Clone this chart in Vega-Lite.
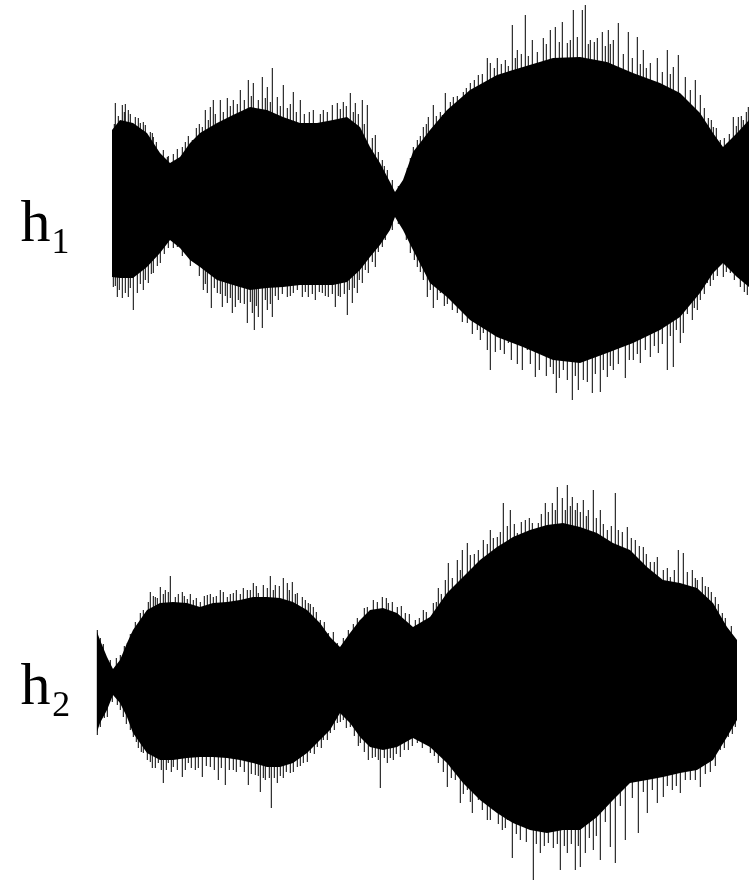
{
  "$schema": "https://vega.github.io/schema/vega-lite/v6.json",
  "background": "white",
  "padding": {"left": 20, "top": 0, "right": 0, "bottom": 0},
  "spacing": 0,
  "config": {"view": {"stroke": null}},
  "datasets": {
    "h1body": [
      {"t":16,"top":74,"bot":-73},{"t":24,"top":84,"bot":-74},{"t":37,"top":81,"bot":-74},{"t":51,"top":71,"bot":-63},{"t":64,"top":51,"bot":-49},{"t":74,"top":41,"bot":-36},{"t":84,"top":47,"bot":-44},{"t":94,"top":61,"bot":-56},{"t":104,"top":71,"bot":-63},{"t":121,"top":81,"bot":-76},{"t":137,"top":89,"bot":-81},{"t":154,"top":97,"bot":-86},{"t":171,"top":94,"bot":-84},{"t":187,"top":87,"bot":-83},{"t":204,"top":81,"bot":-81},{"t":221,"top":81,"bot":-81},{"t":237,"top":84,"bot":-81},{"t":251,"top":87,"bot":-78},{"t":264,"top":77,"bot":-66},{"t":274,"top":57,"bot":-53},{"t":284,"top":41,"bot":-41},{"t":294,"top":22,"bot":-26},{"t":299,"top":12,"bot":-13},{"t":307,"top":24,"bot":-26},{"t":317,"top":52,"bot":-46},{"t":334,"top":74,"bot":-79},{"t":351,"top":94,"bot":-93},{"t":374,"top":114,"bot":-116},{"t":401,"top":129,"bot":-133},{"t":427,"top":137,"bot":-143},{"t":457,"top":146,"bot":-156},{"t":484,"top":147,"bot":-159},{"t":511,"top":142,"bot":-149},{"t":537,"top":131,"bot":-139},{"t":564,"top":121,"bot":-126},{"t":584,"top":111,"bot":-113},{"t":604,"top":91,"bot":-89},{"t":617,"top":71,"bot":-69},{"t":627,"top":57,"bot":-59},{"t":641,"top":71,"bot":-73},{"t":653,"top":84,"bot":-83},{"t":664,"top":94,"bot":-91}
    ],
    "h1spike": [
      {"t":19,"a":101},{"t":26,"a":99},{"t":29,"a":100},{"t":32,"a":94},{"t":39,"a":87},{"t":44,"a":81},{"t":49,"a":79},{"t":56,"a":71},{"t":57,"a":67},{"t":71,"a":47},{"t":86,"a":57},{"t":96,"a":64},{"t":106,"a":77},{"t":109,"a":94},{"t":114,"a":97},{"t":117,"a":104},{"t":124,"a":104},{"t":131,"a":106},{"t":137,"a":104},{"t":144,"a":114},{"t":152,"a":124},{"t":157,"a":121},{"t":166,"a":127},{"t":171,"a":117},{"t":176,"a":136},{"t":181,"a":107},{"t":187,"a":119},{"t":197,"a":112},{"t":204,"a":104},{"t":217,"a":94},{"t":227,"a":94},{"t":236,"a":99},{"t":241,"a":101},{"t":247,"a":102},{"t":254,"a":111},{"t":259,"a":101},{"t":266,"a":104},{"t":271,"a":99},{"t":279,"a":69},{"t":286,"a":44},{"t":291,"a":34},
      {"t":317,"a":57},{"t":327,"a":77},{"t":332,"a":87},{"t":337,"a":99},{"t":346,"a":89},{"t":349,"a":111},{"t":357,"a":107},{"t":367,"a":112},{"t":374,"a":121},{"t":382,"a":129},{"t":391,"a":146},{"t":394,"a":141},{"t":401,"a":146},{"t":409,"a":144},{"t":416,"a":179},{"t":421,"a":154},{"t":429,"a":189},{"t":436,"a":164},{"t":447,"a":166},{"t":454,"a":174},{"t":459,"a":177},{"t":466,"a":182},{"t":471,"a":161},{"t":477,"a":194},{"t":481,"a":167},{"t":486,"a":194},{"t":489,"a":199},{"t":494,"a":164},{"t":501,"a":166},{"t":506,"a":172},{"t":512,"a":174},{"t":517,"a":164},{"t":522,"a":181},{"t":532,"a":172},{"t":541,"a":167},{"t":547,"a":154},{"t":554,"a":141},{"t":561,"a":146},{"t":571,"a":154},{"t":577,"a":137},{"t":582,"a":149},{"t":589,"a":127},{"t":599,"a":124},{"t":604,"a":109},{"t":612,"a":86},{"t":617,"a":77},{"t":624,"a":64},{"t":631,"a":61},{"t":637,"a":87},{"t":642,"a":87},{"t":647,"a":84},{"t":652,"a":97},
      {"t":18,"a":80},{"t":22,"a":88},{"t":28,"a":92},{"t":34,"a":90},{"t":42,"a":86},{"t":47,"a":82},{"t":54,"a":72},{"t":60,"a":62},{"t":67,"a":54},{"t":72,"a":48},{"t":77,"a":50},{"t":81,"a":55},{"t":89,"a":62},{"t":92,"a":68},{"t":100,"a":76},{"t":103,"a":80},{"t":112,"a":84},{"t":119,"a":90},{"t":127,"a":92},{"t":134,"a":98},{"t":141,"a":100},{"t":148,"a":104},{"t":155,"a":108},{"t":162,"a":104},{"t":169,"a":106},{"t":174,"a":102},{"t":184,"a":98},{"t":191,"a":96},{"t":194,"a":100},{"t":200,"a":92},{"t":208,"a":90},{"t":213,"a":92},{"t":224,"a":90},{"t":231,"a":92},{"t":244,"a":95},{"t":250,"a":98},{"t":257,"a":92},{"t":262,"a":90},{"t":268,"a":80},{"t":276,"a":66},{"t":282,"a":52},{"t":288,"a":38},{"t":296,"a":24},{"t":302,"a":18},{"t":311,"a":36},{"t":314,"a":46},{"t":321,"a":64},{"t":324,"a":68},{"t":330,"a":80},{"t":340,"a":88},{"t":344,"a":92},{"t":354,"a":102},{"t":361,"a":108},{"t":364,"a":104},{"t":370,"a":116},{"t":378,"a":124},{"t":386,"a":130},{"t":398,"a":136},{"t":405,"a":140},{"t":412,"a":138},{"t":419,"a":146},{"t":425,"a":150},{"t":432,"a":148},{"t":441,"a":152},{"t":450,"a":160},{"t":463,"a":162},{"t":474,"a":164},{"t":492,"a":160},{"t":498,"a":162},{"t":509,"a":158},{"t":514,"a":160},{"t":527,"a":150},{"t":536,"a":146},{"t":544,"a":140},{"t":550,"a":136},{"t":566,"a":132},{"t":574,"a":130},{"t":594,"a":114},{"t":608,"a":96},{"t":615,"a":84},{"t":620,"a":76},{"t":628,"a":66},{"t":633,"a":70},{"t":640,"a":78},{"t":645,"a":88},{"t":650,"a":92},
      {"t":17,"a":-83},{"t":21,"a":-93},{"t":26,"a":-94},{"t":29,"a":-89},{"t":32,"a":-93},{"t":37,"a":-106},{"t":41,"a":-89},{"t":47,"a":-86},{"t":52,"a":-79},{"t":57,"a":-69},{"t":64,"a":-59},{"t":81,"a":-43},{"t":91,"a":-49},{"t":99,"a":-59},{"t":107,"a":-86},{"t":111,"a":-89},{"t":115,"a":-104},{"t":121,"a":-89},{"t":126,"a":-103},{"t":131,"a":-99},{"t":136,"a":-109},{"t":139,"a":-103},{"t":144,"a":-99},{"t":151,"a":-119},{"t":156,"a":-109},{"t":158,"a":-126},{"t":162,"a":-113},{"t":166,"a":-124},{"t":171,"a":-106},{"t":176,"a":-113},{"t":182,"a":-96},{"t":191,"a":-93},{"t":197,"a":-89},{"t":206,"a":-93},{"t":212,"a":-93},{"t":219,"a":-96},{"t":226,"a":-89},{"t":232,"a":-93},{"t":239,"a":-103},{"t":244,"a":-93},{"t":251,"a":-111},{"t":256,"a":-99},{"t":261,"a":-89},{"t":266,"a":-79},{"t":272,"a":-69},{"t":279,"a":-63},{"t":286,"a":-43},{"t":291,"a":-29},
      {"t":314,"a":-49},{"t":321,"a":-63},{"t":327,"a":-76},{"t":331,"a":-93},{"t":337,"a":-104},{"t":344,"a":-89},{"t":351,"a":-100},{"t":361,"a":-109},{"t":371,"a":-119},{"t":381,"a":-126},{"t":387,"a":-129},{"t":394,"a":-166},{"t":404,"a":-146},{"t":412,"a":-139},{"t":426,"a":-166},{"t":431,"a":-146},{"t":439,"a":-173},{"t":447,"a":-149},{"t":454,"a":-163},{"t":460,"a":-189},{"t":467,"a":-166},{"t":476,"a":-196},{"t":482,"a":-186},{"t":487,"a":-176},{"t":496,"a":-189},{"t":504,"a":-188},{"t":511,"a":-173},{"t":517,"a":-166},{"t":529,"a":-174},{"t":537,"a":-156},{"t":544,"a":-159},{"t":554,"a":-153},{"t":562,"a":-149},{"t":571,"a":-166},{"t":577,"a":-163},{"t":584,"a":-139},{"t":587,"a":-129},{"t":596,"a":-116},{"t":601,"a":-106},{"t":604,"a":-96},{"t":611,"a":-79},{"t":617,"a":-76},{"t":627,"a":-73},{"t":634,"a":-69},{"t":644,"a":-83},{"t":651,"a":-91},
      {"t":19,"a":-82},{"t":23,"a":-86},{"t":34,"a":-84},{"t":44,"a":-80},{"t":49,"a":-76},{"t":55,"a":-70},{"t":61,"a":-62},{"t":68,"a":-50},{"t":72,"a":-44},{"t":77,"a":-44},{"t":86,"a":-52},{"t":94,"a":-62},{"t":103,"a":-72},{"t":109,"a":-80},{"t":118,"a":-84},{"t":124,"a":-90},{"t":129,"a":-92},{"t":134,"a":-94},{"t":142,"a":-96},{"t":148,"a":-100},{"t":154,"a":-98},{"t":160,"a":-102},{"t":169,"a":-96},{"t":174,"a":-100},{"t":179,"a":-92},{"t":186,"a":-90},{"t":194,"a":-92},{"t":201,"a":-86},{"t":209,"a":-88},{"t":216,"a":-90},{"t":223,"a":-88},{"t":229,"a":-92},{"t":236,"a":-90},{"t":242,"a":-92},{"t":248,"a":-90},{"t":253,"a":-86},{"t":258,"a":-84},{"t":263,"a":-76},{"t":269,"a":-66},{"t":276,"a":-58},{"t":282,"a":-48},{"t":289,"a":-36},{"t":296,"a":-26},{"t":302,"a":-20},{"t":310,"a":-36},{"t":318,"a":-56},{"t":324,"a":-68},{"t":334,"a":-86},{"t":341,"a":-96},{"t":348,"a":-102},{"t":356,"a":-106},{"t":366,"a":-118},{"t":376,"a":-130},{"t":384,"a":-136},{"t":391,"a":-146},{"t":399,"a":-148},{"t":408,"a":-150},{"t":415,"a":-156},{"t":421,"a":-160},{"t":434,"a":-160},{"t":443,"a":-166},{"t":450,"a":-172},{"t":457,"a":-170},{"t":463,"a":-174},{"t":471,"a":-176},{"t":479,"a":-172},{"t":491,"a":-178},{"t":499,"a":-170},{"t":507,"a":-166},{"t":514,"a":-162},{"t":522,"a":-160},{"t":533,"a":-156},{"t":541,"a":-150},{"t":549,"a":-146},{"t":558,"a":-142},{"t":566,"a":-140},{"t":574,"a":-132},{"t":580,"a":-126},{"t":591,"a":-110},{"t":598,"a":-104},{"t":608,"a":-90},{"t":614,"a":-82},{"t":621,"a":-72},{"t":630,"a":-68},{"t":638,"a":-76},{"t":648,"a":-88}
    ],
    "h2body": [
      {"t":1,"top":50,"bot":-50},{"t":4,"top":42,"bot":-41},{"t":11,"top":25,"bot":-28},{"t":17,"top":13,"bot":-13},{"t":24,"top":22,"bot":-21},{"t":31,"top":39,"bot":-35},{"t":37,"top":52,"bot":-51},{"t":44,"top":62,"bot":-61},{"t":51,"top":72,"bot":-71},{"t":64,"top":79,"bot":-78},{"t":77,"top":80,"bot":-78},{"t":91,"top":79,"bot":-76},{"t":104,"top":75,"bot":-75},{"t":117,"top":79,"bot":-75},{"t":131,"top":80,"bot":-76},{"t":144,"top":82,"bot":-78},{"t":157,"top":85,"bot":-81},{"t":171,"top":85,"bot":-85},{"t":184,"top":84,"bot":-85},{"t":197,"top":80,"bot":-81},{"t":211,"top":72,"bot":-71},{"t":224,"top":59,"bot":-58},{"t":234,"top":45,"bot":-48},{"t":244,"top":35,"bot":-31},{"t":254,"top":49,"bot":-41},{"t":264,"top":62,"bot":-55},{"t":274,"top":72,"bot":-65},{"t":287,"top":74,"bot":-68},{"t":301,"top":69,"bot":-65},{"t":317,"top":55,"bot":-56},{"t":334,"top":65,"bot":-65},{"t":351,"top":89,"bot":-81},{"t":367,"top":105,"bot":-101},{"t":384,"top":122,"bot":-118},{"t":401,"top":135,"bot":-131},{"t":417,"top":145,"bot":-141},{"t":434,"top":152,"bot":-148},{"t":451,"top":157,"bot":-151},{"t":467,"top":159,"bot":-148},{"t":484,"top":155,"bot":-148},{"t":501,"top":149,"bot":-135},{"t":517,"top":139,"bot":-118},{"t":534,"top":132,"bot":-101},{"t":551,"top":115,"bot":-98},{"t":567,"top":102,"bot":-95},{"t":584,"top":99,"bot":-91},{"t":601,"top":94,"bot":-88},{"t":617,"top":79,"bot":-78},{"t":631,"top":55,"bot":-55},{"t":641,"top":42,"bot":-38}
    ],
    "h2spike": [
      {"t":1,"a":52},{"t":4,"a":44},{"t":14,"a":22},{"t":24,"a":27},{"t":31,"a":39},{"t":36,"a":49},{"t":41,"a":55},{"t":44,"a":69},{"t":49,"a":65},{"t":54,"a":90},{"t":59,"a":85},{"t":64,"a":95},{"t":69,"a":92},{"t":74,"a":106},{"t":79,"a":85},{"t":86,"a":90},{"t":91,"a":83},{"t":97,"a":82},{"t":104,"a":80},{"t":111,"a":87},{"t":117,"a":85},{"t":124,"a":92},{"t":131,"a":85},{"t":137,"a":89},{"t":144,"a":88},{"t":151,"a":92},{"t":157,"a":99},{"t":162,"a":89},{"t":167,"a":97},{"t":174,"a":106},{"t":179,"a":97},{"t":187,"a":104},{"t":191,"a":99},{"t":196,"a":100},{"t":201,"a":89},{"t":206,"a":85},{"t":212,"a":79},{"t":217,"a":75},{"t":224,"a":62},{"t":232,"a":49},{"t":241,"a":39},{"t":252,"a":52},{"t":264,"a":62},{"t":271,"a":75},{"t":277,"a":82},{"t":286,"a":85},{"t":292,"a":79},{"t":301,"a":75},{"t":309,"a":69},{"t":319,"a":62},
      {"t":327,"a":72},{"t":337,"a":79},{"t":342,"a":94},{"t":349,"a":102},{"t":352,"a":119},{"t":361,"a":122},{"t":366,"a":132},{"t":371,"a":139},{"t":374,"a":127},{"t":382,"a":132},{"t":387,"a":142},{"t":394,"a":152},{"t":401,"a":145},{"t":407,"a":179},{"t":414,"a":172},{"t":421,"a":149},{"t":429,"a":162},{"t":436,"a":159},{"t":442,"a":159},{"t":449,"a":179},{"t":456,"a":179},{"t":461,"a":195},{"t":466,"a":184},{"t":471,"a":197},{"t":476,"a":185},{"t":481,"a":179},{"t":487,"a":182},{"t":492,"a":172},{"t":497,"a":192},{"t":504,"a":172},{"t":511,"a":152},{"t":519,"a":189},{"t":526,"a":150},{"t":531,"a":155},{"t":539,"a":142},{"t":547,"a":135},{"t":554,"a":120},{"t":561,"a":125},{"t":567,"a":112},{"t":574,"a":105},{"t":582,"a":132},{"t":587,"a":129},{"t":596,"a":112},{"t":601,"a":102},{"t":606,"a":105},{"t":612,"a":95},{"t":619,"a":85},{"t":626,"a":69},{"t":632,"a":52},{"t":637,"a":39},
      {"t":7,"a":38},{"t":20,"a":24},{"t":28,"a":36},{"t":34,"a":48},{"t":39,"a":60},{"t":47,"a":72},{"t":52,"a":80},{"t":57,"a":86},{"t":61,"a":84},{"t":67,"a":88},{"t":72,"a":90},{"t":82,"a":88},{"t":88,"a":86},{"t":94,"a":88},{"t":100,"a":84},{"t":108,"a":86},{"t":114,"a":88},{"t":120,"a":86},{"t":127,"a":90},{"t":134,"a":88},{"t":140,"a":92},{"t":147,"a":94},{"t":154,"a":92},{"t":160,"a":96},{"t":171,"a":94},{"t":177,"a":92},{"t":183,"a":96},{"t":193,"a":92},{"t":199,"a":88},{"t":209,"a":82},{"t":214,"a":78},{"t":220,"a":70},{"t":228,"a":60},{"t":237,"a":50},{"t":247,"a":44},{"t":257,"a":58},{"t":261,"a":64},{"t":268,"a":74},{"t":281,"a":80},{"t":290,"a":84},{"t":296,"a":80},{"t":305,"a":76},{"t":313,"a":68},{"t":323,"a":64},{"t":330,"a":70},{"t":340,"a":80},{"t":345,"a":88},{"t":356,"a":104},{"t":364,"a":112},{"t":378,"a":128},{"t":391,"a":138},{"t":397,"a":144},{"t":404,"a":150},{"t":411,"a":156},{"t":418,"a":158},{"t":425,"a":160},{"t":433,"a":164},{"t":445,"a":168},{"t":452,"a":170},{"t":459,"a":172},{"t":469,"a":172},{"t":474,"a":176},{"t":479,"a":172},{"t":484,"a":170},{"t":490,"a":166},{"t":500,"a":164},{"t":507,"a":158},{"t":515,"a":156},{"t":522,"a":152},{"t":535,"a":144},{"t":543,"a":136},{"t":550,"a":128},{"t":558,"a":120},{"t":571,"a":114},{"t":578,"a":112},{"t":591,"a":110},{"t":599,"a":104},{"t":609,"a":96},{"t":615,"a":90},{"t":622,"a":78},{"t":629,"a":64},{"t":635,"a":56},
      {"t":1,"a":-53},{"t":4,"a":-45},{"t":11,"a":-35},{"t":21,"a":-23},{"t":27,"a":-35},{"t":34,"a":-48},{"t":37,"a":-55},{"t":42,"a":-66},{"t":47,"a":-71},{"t":51,"a":-78},{"t":56,"a":-86},{"t":62,"a":-81},{"t":67,"a":-101},{"t":72,"a":-81},{"t":77,"a":-85},{"t":86,"a":-95},{"t":92,"a":-81},{"t":99,"a":-88},{"t":106,"a":-95},{"t":114,"a":-85},{"t":122,"a":-98},{"t":129,"a":-103},{"t":137,"a":-88},{"t":144,"a":-85},{"t":152,"a":-103},{"t":159,"a":-93},{"t":164,"a":-110},{"t":169,"a":-98},{"t":175,"a":-126},{"t":181,"a":-101},{"t":187,"a":-96},{"t":194,"a":-91},{"t":201,"a":-85},{"t":207,"a":-81},{"t":214,"a":-71},{"t":221,"a":-65},{"t":227,"a":-58},{"t":234,"a":-51},{"t":241,"a":-41},{"t":247,"a":-38},{"t":254,"a":-45},{"t":264,"a":-61},{"t":272,"a":-78},{"t":279,"a":-75},{"t":284,"a":-106},{"t":291,"a":-81},{"t":297,"a":-78},{"t":304,"a":-75},{"t":312,"a":-68},{"t":321,"a":-61},
      {"t":334,"a":-71},{"t":342,"a":-81},{"t":351,"a":-105},{"t":359,"a":-98},{"t":364,"a":-121},{"t":371,"a":-108},{"t":376,"a":-131},{"t":382,"a":-118},{"t":391,"a":-138},{"t":397,"a":-128},{"t":406,"a":-148},{"t":411,"a":-138},{"t":416,"a":-176},{"t":424,"a":-158},{"t":437,"a":-198},{"t":444,"a":-171},{"t":452,"a":-161},{"t":464,"a":-188},{"t":471,"a":-171},{"t":479,"a":-188},{"t":484,"a":-185},{"t":489,"a":-171},{"t":497,"a":-168},{"t":504,"a":-178},{"t":514,"a":-165},{"t":519,"a":-181},{"t":529,"a":-158},{"t":542,"a":-151},{"t":551,"a":-131},{"t":561,"a":-121},{"t":567,"a":-115},{"t":576,"a":-108},{"t":584,"a":-111},{"t":594,"a":-98},{"t":604,"a":-105},{"t":614,"a":-90},{"t":624,"a":-68},{"t":632,"a":-55},{"t":639,"a":-45},
      {"t":8,"a":-36},{"t":16,"a":-20},{"t":24,"a":-28},{"t":30,"a":-42},{"t":40,"a":-60},{"t":45,"a":-70},{"t":54,"a":-80},{"t":59,"a":-86},{"t":65,"a":-88},{"t":70,"a":-88},{"t":75,"a":-90},{"t":81,"a":-88},{"t":89,"a":-88},{"t":95,"a":-86},{"t":102,"a":-86},{"t":110,"a":-84},{"t":118,"a":-88},{"t":125,"a":-86},{"t":133,"a":-88},{"t":140,"a":-90},{"t":148,"a":-90},{"t":155,"a":-92},{"t":162,"a":-94},{"t":167,"a":-96},{"t":173,"a":-96},{"t":178,"a":-96},{"t":184,"a":-94},{"t":190,"a":-90},{"t":197,"a":-90},{"t":204,"a":-84},{"t":211,"a":-80},{"t":218,"a":-72},{"t":225,"a":-66},{"t":231,"a":-58},{"t":238,"a":-48},{"t":244,"a":-40},{"t":250,"a":-46},{"t":258,"a":-54},{"t":262,"a":-64},{"t":268,"a":-70},{"t":276,"a":-76},{"t":282,"a":-78},{"t":288,"a":-76},{"t":294,"a":-76},{"t":300,"a":-72},{"t":308,"a":-68},{"t":316,"a":-64},{"t":326,"a":-66},{"t":338,"a":-74},{"t":347,"a":-90},{"t":355,"a":-96},{"t":367,"a":-112},{"t":374,"a":-120},{"t":386,"a":-128},{"t":394,"a":-138},{"t":402,"a":-142},{"t":409,"a":-146},{"t":420,"a":-152},{"t":430,"a":-160},{"t":440,"a":-162},{"t":448,"a":-164},{"t":457,"a":-166},{"t":461,"a":-162},{"t":468,"a":-164},{"t":475,"a":-162},{"t":482,"a":-164},{"t":493,"a":-156},{"t":500,"a":-154},{"t":509,"a":-140},{"t":524,"a":-124},{"t":536,"a":-116},{"t":547,"a":-110},{"t":556,"a":-108},{"t":571,"a":-104},{"t":580,"a":-104},{"t":589,"a":-98},{"t":599,"a":-98},{"t":609,"a":-92},{"t":619,"a":-84},{"t":628,"a":-66},{"t":636,"a":-52}
    ]
  },
  "vconcat": [
    {
      "width": 653,
      "height": 440,
      "layer": [
        {
          "data": {"name": "h1body"},
          "mark": {"type": "area", "color": "black", "clip": true, "interpolate": "linear"},
          "encoding": {
            "x": {"field": "t", "type": "quantitative", "scale": {"domain": [0, 653], "nice": false, "zero": false}, "axis": null},
            "y": {"field": "top", "type": "quantitative", "scale": {"domain": [-236, 204], "nice": false, "zero": false},
                  "axis": {"domain": false, "ticks": false, "labels": false, "grid": false, "title": "h₁", "titleAngle": 0, "titleFont": "Liberation Serif", "titleFontSize": 60, "titleFontWeight": "normal", "titleColor": "black", "titleAlign": "left", "titleBaseline": "alphabetic", "titleX": -76, "titleY": 240}},
            "y2": {"field": "bot"}
          }
        },
        {
          "data": {"name": "h1spike"},
          "mark": {"type": "rule", "color": "black", "strokeWidth": 1, "xOffset": 0.3, "clip": true},
          "encoding": {
            "x": {"field": "t", "type": "quantitative"},
            "y": {"field": "a", "type": "quantitative"},
            "y2": {"datum": 0}
          }
        }
      ]
    },
    {
      "width": 653,
      "height": 441,
      "layer": [
        {
          "data": {"name": "h2body"},
          "mark": {"type": "area", "color": "black", "clip": true, "interpolate": "linear"},
          "encoding": {
            "x": {"field": "t", "type": "quantitative", "scale": {"domain": [0, 653], "nice": false, "zero": false}, "axis": null},
            "y": {"field": "top", "type": "quantitative", "scale": {"domain": [-199, 242], "nice": false, "zero": false},
                  "axis": {"domain": false, "ticks": false, "labels": false, "grid": false, "title": "h₂", "titleAngle": 0, "titleFont": "Liberation Serif", "titleFontSize": 60, "titleFontWeight": "normal", "titleColor": "black", "titleAlign": "left", "titleBaseline": "alphabetic", "titleX": -76, "titleY": 263}},
            "y2": {"field": "bot"}
          }
        },
        {
          "data": {"name": "h2spike"},
          "mark": {"type": "rule", "color": "black", "strokeWidth": 1, "xOffset": 0.3, "clip": true},
          "encoding": {
            "x": {"field": "t", "type": "quantitative"},
            "y": {"field": "a", "type": "quantitative"},
            "y2": {"datum": 0}
          }
        }
      ]
    }
  ]
}
